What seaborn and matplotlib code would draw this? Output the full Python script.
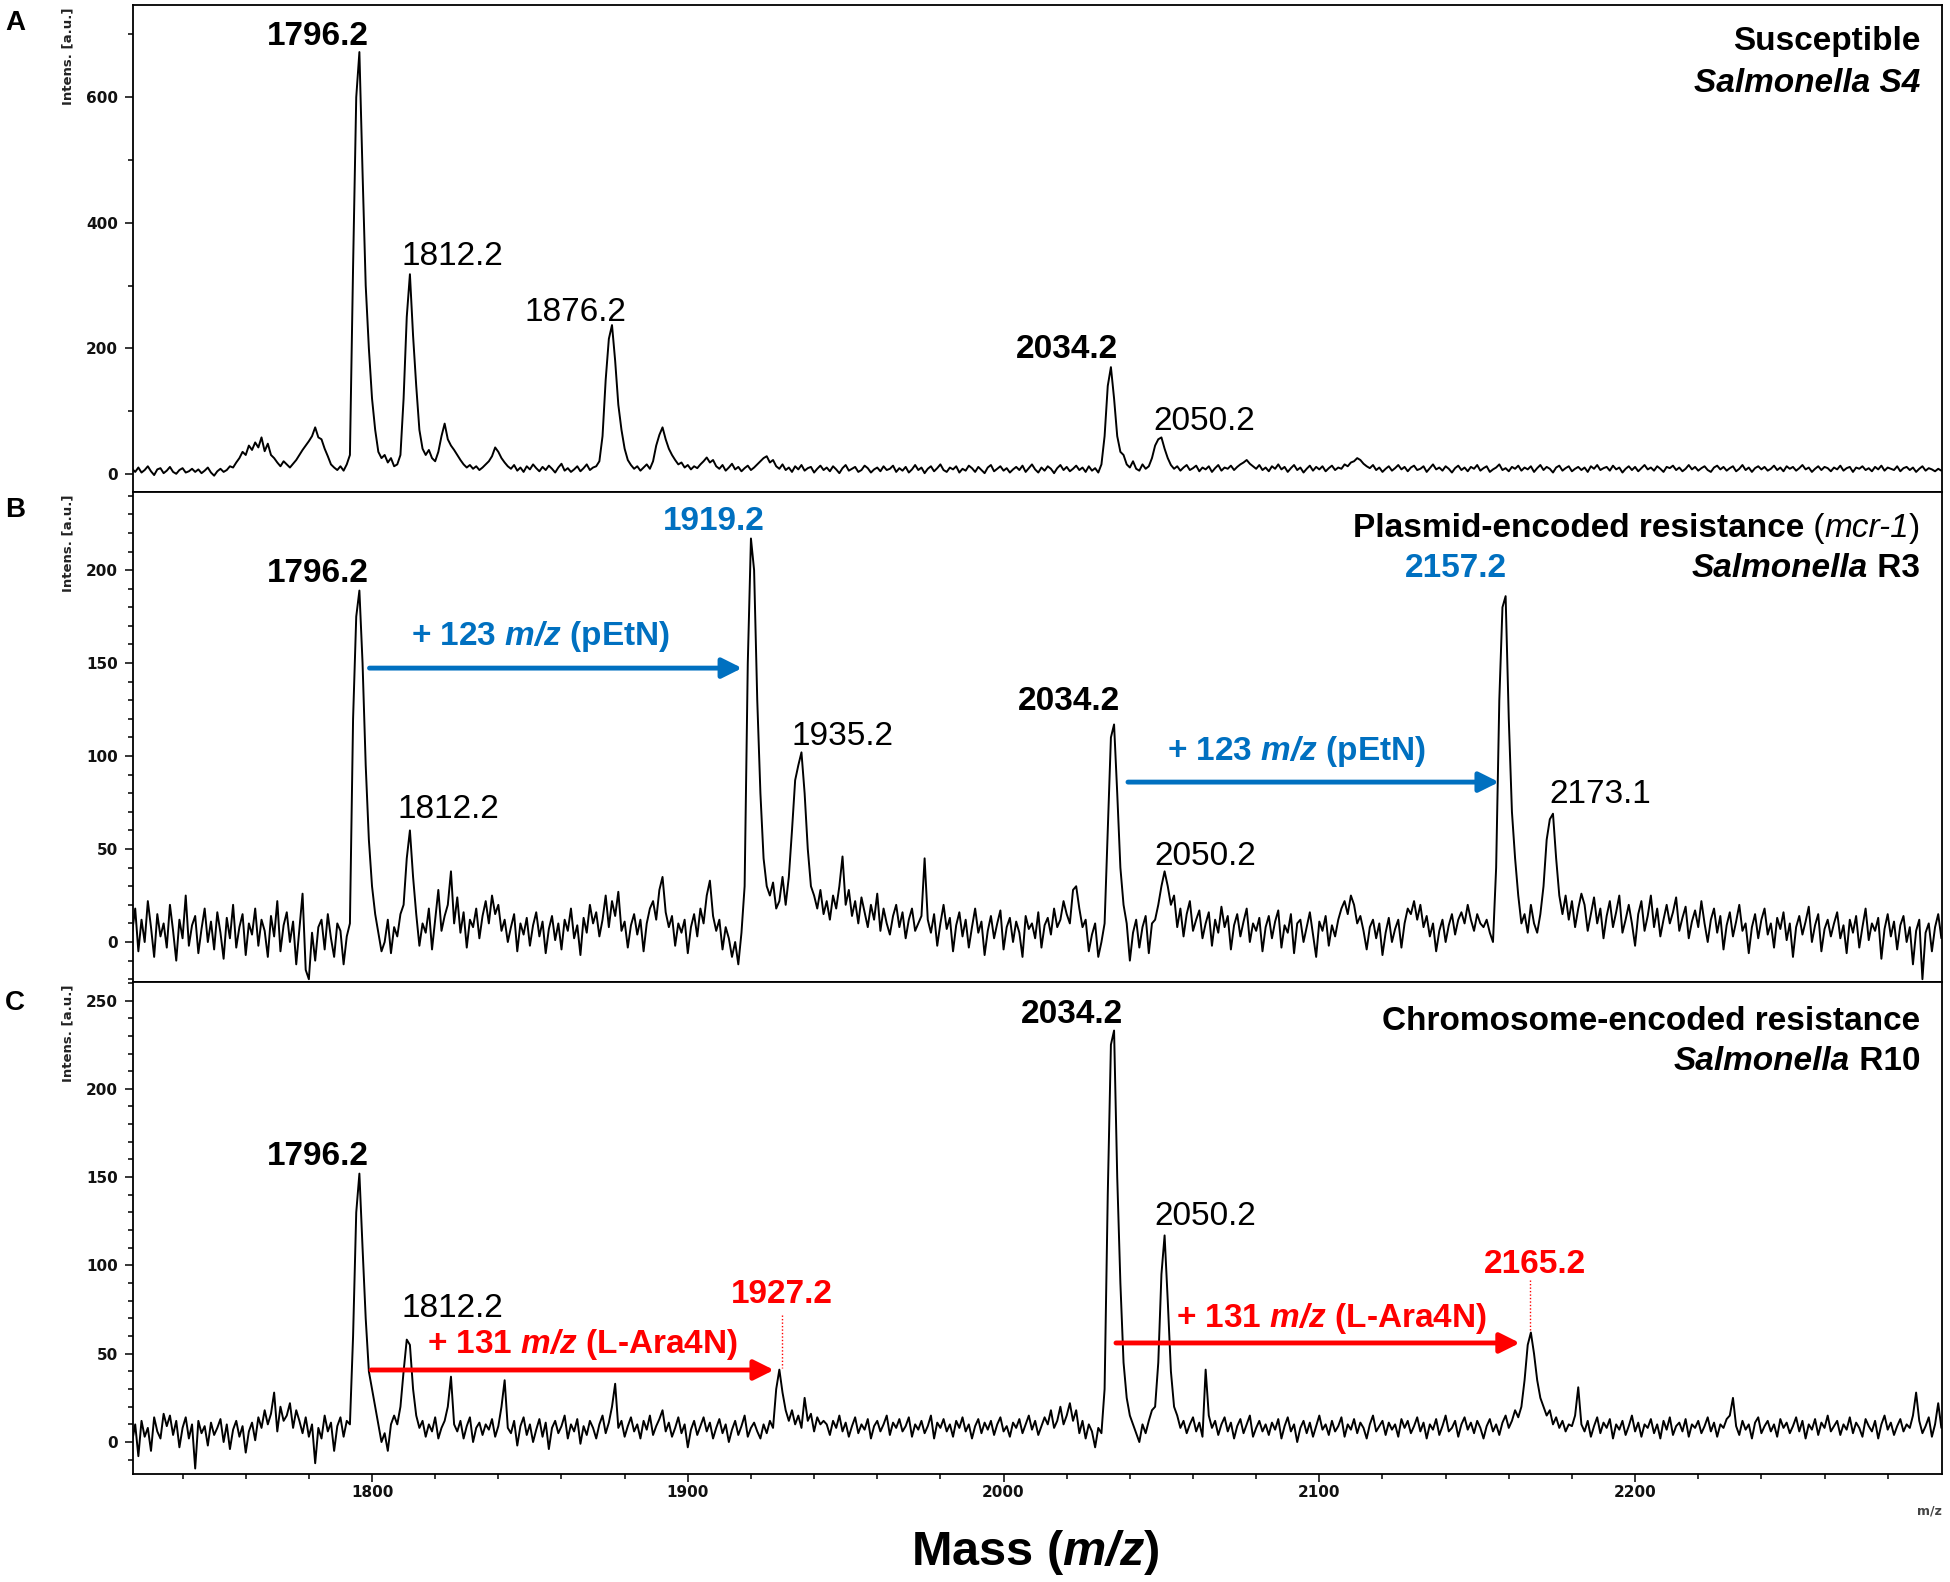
import numpy as np
import seaborn as sns
import matplotlib.pyplot as plt
from matplotlib.ticker import MultipleLocator

sns.set_style('white')
plt.rcParams['font.family'] = ['Liberation Sans', 'DejaVu Sans']
plt.rcParams['text.color'] = 'black'
plt.rcParams['mathtext.fontset'] = 'custom'
plt.rcParams['mathtext.rm'] = 'Liberation Sans'
plt.rcParams['mathtext.it'] = 'Liberation Sans:italic'
plt.rcParams['mathtext.bf'] = 'Liberation Sans:bold'
plt.rcParams['mathtext.bfit'] = 'Liberation Sans:italic:bold'

# spectra, one value per m/z unit starting at 1724
MZ_START = 1724

# A - susceptible S4
intens_a = [
    8, 3, 10, 2, 6, 12, 4, -2, 7, 9, 1, 5, 11, 3, 0, 6, 9, 2, 4, 8,
    3, 7, 1, 5, 10, 2, -3, 4, 8, 3, 6, 12, 10, 18, 25, 35, 30, 45, 38, 50,
    42, 58, 36, 48, 30, 25, 18, 12, 20, 15, 10, 16, 22, 30, 38, 45, 52, 60, 74, 58,
    55, 40, 28, 15, 10, 6, 12, 5, 15, 30, 330, 600, 672, 480, 300, 200, 120, 70, 35, 25,
    30, 18, 25, 12, 15, 30, 120, 250, 318, 220, 140, 70, 40, 30, 38, 25, 20, 35, 60, 80,
    55, 45, 38, 30, 22, 15, 10, 14, 8, 12, 6, 10, 15, 20, 28, 42, 35, 25, 18, 12,
    8, 14, 5, 10, 3, 12, 7, 15, 9, 4, 11, 6, 13, 8, 2, 10, 16, 5, 9, 3,
    7, 12, 4, 9, 15, 6, 10, 12, 20, 60, 150, 215, 237, 180, 110, 70, 40, 22, 14, 8,
    12, 5, 10, 15, 8, 20, 45, 62, 74, 55, 40, 30, 22, 15, 18, 10, 14, 7, 12, 9,
    15, 20, 26, 18, 22, 12, 8, 14, 5, 10, 16, 7, 11, 4, 9, 13, 6, 10, 15, 20,
    25, 28, 18, 22, 12, 8, 15, 6, 10, 3, 12, 7, 14, 5, 9, 11, 2, 8, 13, 6,
    10, 4, 12, 7, 1, 9, 14, 5, 8, 11, 3, 6, 13, 9, 2, 7, 10, 4, 12, 6,
    8, 13, 3, 9, 5, 11, 2, 7, 14, 6, 10, 1, 8, 12, 4, 9, 15, 6, 3, 10,
    7, 12, 2, 8, 5, 13, 9, 3, 11, 6, 1, 10, 14, 4, 8, 12, 5, 9, 2, 7,
    11, 6, 13, 3, 9, 15, 7, 2, 10, 5, 12, 8, 1, 9, 14, 6, 11, 4, 8, 13,
    6, 10, 3, 12, 5, 9, 2, 15, 60, 140, 170, 120, 60, 35, 30, 15, 10, 20, 8, 5,
    15, 8, 12, 25, 45, 55, 58, 40, 25, 14, 8, 12, 5, 10, 14, 6, 9, 13, 4, 10,
    7, 12, 3, 9, 14, 5, 10, 8, 13, 6, 11, 15, 18, 22, 16, 12, 8, 14, 6, 10,
    4, 12, 8, 15, 7, 11, 3, 9, 14, 6, 10, 2, 8, 13, 5, 11, 7, 12, 4, 9,
    13, 6, 10, 8, 15, 12, 18, 20, 25, 22, 16, 12, 9, 14, 6, 10, 3, 8, 12, 5,
    9, 14, 7, 11, 4, 10, 13, 6, 8, 12, 3, 9, 15, 7, 10, 5, 12, 8, 2, 9,
    13, 6, 10, 4, 11, 8, 14, 5, 9, 12, 3, 7, 10, 15, 6, 9, 4, 11, 8, 13,
    5, 10, 7, 12, 3, 9, 14, 6, 11, 8, 2, 10, 13, 5, 9, 12, 4, 8, 11, 6,
    10, 3, 12, 8, 14, 6, 9, 11, 5, 13, 7, 10, 2, 8, 12, 6, 11, 4, 9, 14,
    7, 10, 5, 12, 8, 3, 11, 9, 13, 6, 10, 4, 8, 14, 7, 11, 5, 9, 12, 6,
    3, 10, 13, 7, 11, 5, 9, 12, 4, 8, 14, 6, 10, 3, 9, 12, 7, 11, 5, 8,
    13, 6, 10, 4, 12, 8, 11, 5, 9, 14, 7, 10, 3, 8, 12, 6, 11, 9, 4, 10,
    7, 13, 5, 9, 11, 3, 10, 8, 12, 6, 9, 4, 11, 7, 13, 5, 10, 8, 6, 12,
    4, 9, 11, 6, 10, 3, 8, 12, 5, 9, 7, 4, 8, 5,
]

# B - plasmid-encoded resistance R3
intens_b = [
    5, 18, -5, 12, 0, 22, 8, -8, 15, 3, 10, -3, 20, 6, -10, 12, 2, 25, -2, 9,
    14, -6, 7, 18, 0, 11, -4, 16, 5, -9, 13, 2, 20, -3, 8, 15, -7, 10, 4, 18,
    -2, 12, 6, -8, 14, 3, 22, -5, 9, 16, 0, 11, -12, 7, 26, -15, -20, 5, -10, 8,
    12, -4, 15, 2, -8, 10, 6, -12, 3, 10, 120, 175, 189, 150, 95, 55, 30, 15, 5, -5,
    0, 12, -6, 8, 3, 15, 20, 45, 60, 35, 15, -2, 10, 5, 18, -4, 12, 28, 6, 14,
    20, 38, 10, 24, 5, 16, -3, 12, 8, 18, 2, 14, 22, 10, 25, 15, 20, 6, 12, 0,
    8, 15, -5, 10, 4, 13, -2, 9, 16, 3, 11, -6, 7, 14, 1, 10, -4, 12, 6, 18,
    2, 9, -7, 13, 5, 20, 10, 16, 3, 12, 25, 8, 22, 14, 27, 6, 11, -3, 9, 15,
    4, 12, -5, 10, 18, 22, 12, 28, 35, 16, 8, 14, -2, 10, 5, 12, -6, 8, 15, 3,
    18, 10, 25, 33, 14, 6, 12, -4, 8, 2, -8, 0, -12, 5, 30, 150, 217, 200, 130, 80,
    45, 30, 25, 32, 18, 22, 35, 20, 35, 60, 87, 95, 102, 80, 50, 30, 25, 18, 28, 15,
    22, 12, 25, 18, 30, 46, 20, 28, 14, 22, 10, 24, 16, 8, 20, 12, 26, 6, 18, 10,
    4, 14, 20, 8, 16, 2, 12, 18, 6, 10, 14, 45, 12, 5, 15, -2, 10, 20, 7, 13,
    -5, 9, 16, 3, 12, -3, 8, 18, 5, 11, -7, 6, 14, 2, 10, 17, -4, 8, 13, 0,
    11, 5, -8, 14, 7, 10, 2, 16, -3, 9, 13, 4, 18, 8, 12, 22, 15, 10, 28, 30,
    18, 8, 12, -5, 4, 10, -8, 0, 10, 60, 110, 117, 80, 40, 20, 10, -10, 5, 12, -3,
    8, 14, -6, 10, 12, 20, 30, 38, 30, 20, 25, 8, 18, 3, 15, 22, 6, 12, 17, 2,
    10, 16, -2, 12, 5, 19, 8, 14, -4, 9, 15, 3, 11, 18, 0, 10, 6, 13, -5, 8,
    14, 2, 11, 17, -3, 9, 5, 15, -6, 10, 12, 0, 8, 16, 4, -8, 11, 6, 14, -2,
    9, 3, 12, 18, 22, 15, 25, 20, 10, 14, 6, -4, 8, 12, 2, 10, -7, 5, 13, 0,
    7, 12, -3, 10, 18, 15, 22, 12, 20, 8, 14, 3, 10, -5, 6, 12, 0, 9, 15, 4,
    12, 16, 10, 20, 12, 6, 15, 10, 8, 12, 5, 0, 40, 130, 180, 186, 120, 70, 45, 25,
    10, 15, 5, 20, 10, 5, 15, 30, 55, 66, 69, 45, 25, 15, 25, 12, 22, 8, 18, 26,
    20, 6, 15, 24, 10, 18, 2, 14, 22, 8, 16, 25, 5, 12, 20, 10, -2, 15, 22, 6,
    14, 25, 8, 18, 3, 12, 20, 10, 16, 24, 6, 13, 19, 2, 11, 17, 8, 22, 10, 0,
    12, 18, 5, 14, -4, 9, 16, 3, 11, 20, 6, 10, -6, 8, 15, 2, 12, 18, 4, 10,
    -3, 13, 7, 16, 1, 10, -8, 8, 14, 4, 11, 19, 0, 9, 15, -5, 7, 12, 3, 10,
    16, 2, 9, -6, 12, 5, 14, -3, 8, 18, 1, 10, 6, 13, -9, 7, 15, 3, 11, -4,
    9, 14, 0, 8, -12, 6, 12, -20, 5, 10, -5, 8, 15, 2,
]

# C - chromosome-encoded resistance R10
intens_c = [
    0, 10, -8, 12, 3, 8, -5, 14, 6, 2, 16, 9, 15, 4, 12, -3, 8, 14, 2, 10,
    -15, 12, 5, 9, -2, 11, 4, 8, 13, 0, 10, -4, 7, 12, 3, 9, -6, 6, 11, 1,
    14, 8, 18, 10, 16, 28, 6, 20, 12, 15, 22, 8, 18, 12, 5, 14, 3, 10, -12, 8,
    2, 15, 6, 11, -5, 9, 14, 3, 12, 10, 60, 130, 152, 110, 70, 40, 30, 20, 10, 0,
    5, -5, 10, 15, 10, 20, 40, 58, 55, 30, 15, 8, 12, 3, 10, 6, 14, 2, 8, 12,
    20, 37, 10, 6, 12, 2, 9, 14, 0, 8, 11, 4, 10, 7, 13, 3, 9, 20, 35, 8,
    5, 12, -2, 9, 14, 4, 10, 0, 7, 13, 3, 11, -4, 8, 12, 5, 9, 15, 2, 10,
    6, 13, -1, 9, 4, 12, 8, 2, 10, 15, 5, 11, 20, 33, 8, 12, 3, 9, 14, 6,
    10, 2, 12, 7, 15, 4, 9, 13, 18, 6, 11, 3, 8, 14, 5, 10, -3, 7, 12, 4,
    9, 14, 6, 11, 2, 8, 13, 5, 10, 0, 7, 12, 4, 9, 15, 3, 8, 11, 6, 2,
    10, 5, 12, 8, 30, 41, 28, 18, 12, 18, 10, 15, 8, 25, 12, 16, 6, 14, 10, 12,
    10, 4, 12, 8, 15, 6, 11, 3, 9, 14, 5, 10, 7, 13, 2, 9, 12, 6, 10, 15,
    4, 11, 8, 13, 6, 9, 14, 3, 10, 7, 12, 5, 9, 15, 2, 11, 8, 13, 6, 10,
    3, 12, 8, 14, 6, 10, 2, 9, 13, 5, 11, 7, 12, 4, 10, 14, 6, 9, 3, 11,
    8, 13, 5, 10, 15, 7, 12, 4, 9, 14, 10, 18, 8, 12, 20, 10, 15, 22, 12, 18,
    5, 12, 2, 10, 6, -3, 8, 5, 30, 140, 225, 233, 150, 90, 45, 25, 15, 10, 5, 0,
    10, 5, 12, 18, 20, 45, 95, 117, 80, 40, 20, 15, 8, 12, 5, 10, 14, 6, 11, 3,
    41, 15, 8, 12, 4, 10, 14, 6, 11, 2, 9, 13, 5, 10, 15, 3, 8, 12, 6, 10,
    4, 11, 7, 13, 2, 9, 14, 6, 10, 0, 8, 12, 5, 11, 3, 9, 15, 7, 10, 4,
    12, 6, 9, 14, 3, 10, 7, 13, 5, 11, 8, 2, 10, 15, 6, 9, 12, 4, 11, 7,
    10, 3, 13, 8, 12, 5, 9, 14, 6, 11, 2, 10, 7, 13, 4, 9, 15, 6, 8, 12,
    3, 10, 14, 7, 11, 5, 12, 8, 2, 9, 13, 6, 10, 4, 11, 15, 8, 12, 18, 14,
    20, 35, 55, 62, 50, 35, 25, 20, 15, 18, 10, 14, 8, 12, 6, 10, 9, 15, 31, 10,
    6, 12, 3, 9, 14, 5, 11, 8, 13, 2, 10, 7, 12, 4, 9, 15, 6, 11, 3, 10,
    8, 13, 5, 10, 2, 12, 7, 14, 4, 9, 11, 6, 13, 3, 10, 8, 12, 5, 9, 14,
    6, 11, 3, 10, 8, 13, 15, 25, 9, 4, 12, 7, 10, 2, 11, 14, 5, 9, 12, 6,
    10, 3, 13, 8, 11, 5, 9, 14, 6, 12, 2, 10, 7, 13, 4, 11, 8, 15, 6, 9,
    12, 4, 10, 7, 14, 5, 11, 8, 3, 13, 9, 6, 12, 2, 10, 15, 7, 11, 4, 9,
    13, 6, 10, 8, 15, 28, 12, 5, 9, 14, 3, 10, 22, 8,
]

x_ticks = [1800, 1900, 2000, 2100, 2200]
y_ticks_a = [0, 200, 400, 600]
y_ticks_b = [0, 50, 100, 150, 200]
y_ticks_c = [0, 50, 100, 150, 200, 250]

BLUE = '#0070c0'
RED = '#ff0000'
LBL = 24

fig = plt.figure(figsize=(19.5, 15.82), dpi=100)

panels = [
    ('A', intens_a, y_ticks_a, 100, (-29, 747), [0.0682, 0.68900, 0.9277, 0.30784], 0.981),
    ('B', intens_b, y_ticks_b, 10, (-21.5, 242), [0.0682, 0.37927, 0.9277, 0.30973], 0.6732),
    ('C', intens_c, y_ticks_c, 10, (-18.1, 260.5), [0.0682, 0.06827, 0.9277, 0.31100], 0.3616),
]
axes = []
for letter, vals, yt, ymin, ylim, box, ly in panels:
    ax = fig.add_axes(box)
    mz = MZ_START + np.arange(len(vals))
    sns.lineplot(x=mz, y=vals, ax=ax, color='black', lw=1.4, estimator=None)
    ax.set_xlim(1724.3, 2297.2)
    ax.set_ylim(*ylim)
    ax.set_yticks(yt, [str(v) for v in yt], fontfamily='DejaVu Sans',
                  fontweight='bold', fontsize=11, color='#111111')
    ax.yaxis.set_minor_locator(MultipleLocator(ymin))
    ax.xaxis.set_minor_locator(MultipleLocator(20))
    ax.tick_params(which='major', direction='out', length=5.8, width=1.1,
                   color='black', left=True, bottom=True)
    ax.tick_params(which='minor', direction='out', length=3.6, width=1.1,
                   color='black', left=True, bottom=True)
    ax.tick_params(axis='y', pad=5)
    for s in ax.spines.values():
        s.set_color('black')
        s.set_linewidth(1.3)
    ax.set_xlabel('')
    ax.set_ylabel('')
    ax.text(-0.036, 0.994, 'Intens. [a.u.]', rotation=90, ha='center', va='top',
            transform=ax.transAxes, fontfamily='DejaVu Sans', fontweight='bold',
            fontsize=9.5, color='#222222')
    fig.text(0.0026, ly, letter, fontsize=20, fontweight='bold', ha='left',
             va='baseline')
    axes.append(ax)

ax_a, ax_b, ax_c = axes
for ax in (ax_a, ax_b):
    ax.tick_params(axis='x', which='both', bottom=False, labelbottom=False)
ax_c.set_xticks(x_ticks, [str(v) for v in x_ticks], fontfamily='DejaVu Sans',
                fontweight='bold', fontsize=11, color='#111111')
ax_c.tick_params(axis='x', pad=2)


def label(ax, txt, x, y, color='black', bold=False):
    ax.text(x, y, txt, ha='center', va='baseline', fontsize=LBL, color=color,
            fontweight='bold' if bold else 'normal')


def arrow(ax, x0, x1, y, color):
    ax.annotate('', xy=(x1, y), xytext=(x0, y),
                arrowprops=dict(arrowstyle='-|>,head_length=0.6,head_width=0.3',
                                color=color, lw=3.5, mutation_scale=20,
                                shrinkA=0, shrinkB=0))


def chain_right(ax, y_frac, pieces):
    # pieces left to right, laid out backwards from the right edge
    renderer = fig.canvas.get_renderer()
    x_px, y_px = ax.transAxes.transform((0.988, y_frac))
    for txt, kw in reversed(pieces):
        t = fig.text(x_px / fig.bbox.width, y_px / fig.bbox.height, txt,
                     ha='right', va='baseline', fontsize=LBL, **kw)
        x_px = t.get_window_extent(renderer).x0


BOLD = dict(fontweight='bold')
BOLD_IT = dict(fontweight='bold', fontstyle='italic')
PLAIN = dict(fontweight='normal')
IT = dict(fontweight='normal', fontstyle='italic')

# A
label(ax_a, '1796.2', 1782.7, 683, bold=True)
label(ax_a, '1812.2', 1825.5, 332)
label(ax_a, '1876.2', 1864.3, 243)
label(ax_a, '2034.2', 2020.1, 184, bold=True)
label(ax_a, '2050.2', 2063.5, 69)
chain_right(ax_a, 0.9076, [('Susceptible', BOLD)])
chain_right(ax_a, 0.8214, [('Salmonella S4', BOLD_IT)])

# B
label(ax_b, '1796.2', 1782.9, 193.5, bold=True)
label(ax_b, '1919.2', 1908.1, 221.5, color=BLUE, bold=True)
label(ax_b, '1812.2', 1824.1, 66.7)
label(ax_b, '1935.2', 1949.1, 105.9)
label(ax_b, '2034.2', 2020.7, 124.7, bold=True)
label(ax_b, '2157.2', 2143.4, 196.2, color=BLUE, bold=True)
label(ax_b, '2050.2', 2063.9, 41.4)
label(ax_b, '2173.1', 2189.0, 74.7)
arrow(ax_b, 1799.2, 1917.2, 147.3, BLUE)
arrow(ax_b, 2039.4, 2156.9, 86.0, BLUE)
label(ax_b, r'+ 123 $\mathbfit{m/z}$ (pEtN)', 1853.2, 159.7, color=BLUE, bold=True)
label(ax_b, r'+ 123 $\mathbfit{m/z}$ (pEtN)', 2092.9, 97.8, color=BLUE, bold=True)
chain_right(ax_b, 0.908, [('Plasmid-encoded resistance', BOLD), (' (', PLAIN),
                          ('mcr-1', IT), (')', PLAIN)])
chain_right(ax_b, 0.8265, [('Salmonella', BOLD_IT), (' R3', BOLD)])

# C
label(ax_c, '1796.2', 1782.7, 157.1, bold=True)
label(ax_c, '1812.2', 1825.5, 70.8)
label(ax_c, '1927.2', 1929.8, 78.7, color=RED, bold=True)
ax_c.plot([1929.8, 1929.8], [71.9, 41.9], color=RED, lw=1, ls=(0, (1, 1.5)))
arrow(ax_c, 1799.7, 1927.3, 40.8, RED)
label(ax_c, r'+ 131 $\mathbfit{m/z}$ (L-Ara4N)', 1866.7, 50.4, color=RED, bold=True)
label(ax_c, '2034.2', 2021.7, 237.3, bold=True)
label(ax_c, '2050.2', 2063.8, 122.9)
label(ax_c, '2165.2', 2168.3, 95.7, color=RED, bold=True)
ax_c.plot([2166.7, 2166.7], [91.8, 63.4], color=RED, lw=1, ls=(0, (1, 1.5)))
arrow(ax_c, 2035.6, 2163.5, 56.1, RED)
label(ax_c, r'+ 131 $\mathbfit{m/z}$ (L-Ara4N)', 2104.0, 65.1, color=RED, bold=True)
chain_right(ax_c, 0.9024, [('Chromosome-encoded resistance', BOLD)])
chain_right(ax_c, 0.8211, [('Salmonella', BOLD_IT), (' R10', BOLD)])

fig.text(0.9959, 0.0424, 'm/z', ha='right', va='baseline', fontsize=9,
         fontfamily='DejaVu Sans', fontweight='bold', color='#444444')
fig.text(0.531, 0.01075, r'Mass ($\mathbfit{m/z}$)', ha='center', va='baseline',
         fontsize=35, fontweight='bold')

fig.savefig('out.png', dpi=100, facecolor='white')
